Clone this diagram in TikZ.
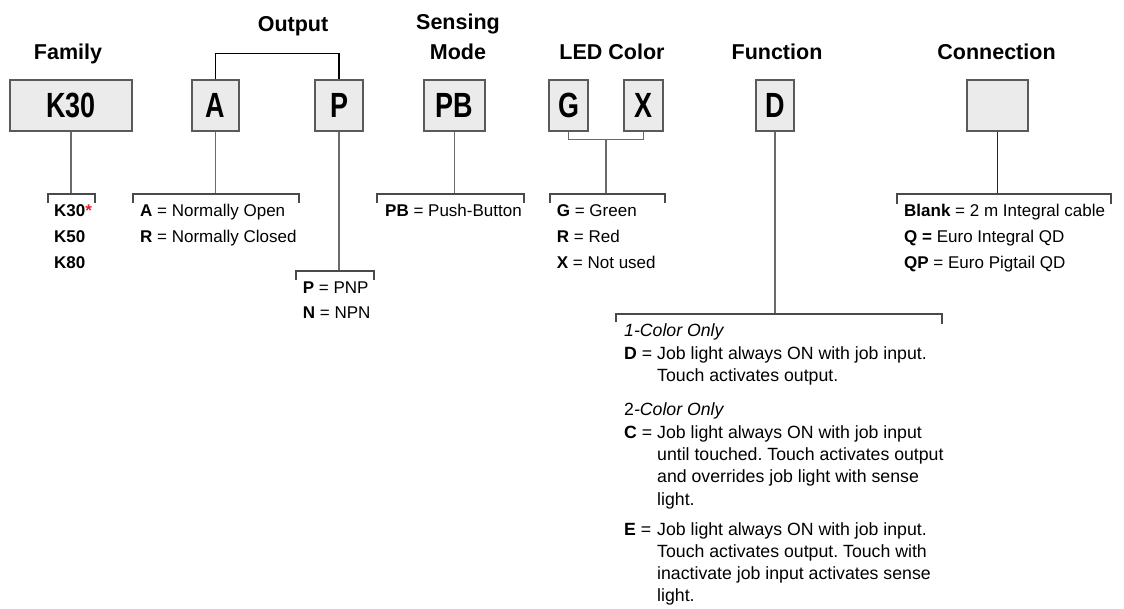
\documentclass[tikz,border=0pt]{standalone}
\usepackage{fontspec}
\setmainfont{Liberation Sans}
\usepackage{graphicx}
\usetikzlibrary{calc}
\frenchspacing
\definecolor{boxfill}{HTML}{EBEBEC}
\definecolor{boxline}{HTML}{5A5A5A}
\definecolor{stemgray}{HTML}{6A6A6A}
\definecolor{brkgray}{HTML}{4A4A4A}
\definecolor{starred}{HTML}{E02030}
\begin{document}
\begin{tikzpicture}[x=1pt,y=-1pt,
  lbox/.style={draw=boxline, fill=boxfill, line width=1.3pt, inner sep=0pt, minimum height=51pt, font=\fontsize{35}{35}\selectfont\bfseries},
  title/.style={anchor=base, font=\fontsize{21.5}{30}\selectfont\bfseries, align=center, inner sep=0pt},
  opt/.style={anchor=base west, font=\fontsize{17}{26}\selectfont, align=left, inner sep=0pt},
  fopt/.style={anchor=base west, font=\fontsize{17.7}{22.3}\selectfont\frenchspacing, align=left, inner sep=0pt},
  stem/.style={draw=stemgray, line width=1.2pt},
  brk/.style={draw=brkgray, line width=1.2pt},
]
\useasboundingbox (0,0) rectangle (1124,609);

% titles (anchor base = baseline of the last line)
\node[title] (tfam) at (68,60) {Family};
\node[title] (tout) at (293,31.7) {Output};
\node[title] (tsen) at (458,60) {Sensing\\Mode};
\node[title] (tled) at (612,60) {LED Color};
\node[title] (tfun) at (777,60) {Function};
\node[title] (tcon) at (996.5,60) {Connection};

% boxes
\node[lbox, minimum width=122pt] (k30) at (71,105.5) {\scalebox{0.77}[1]{K30}};
\node[lbox, minimum width=47pt] (a) at (215.5,105.5) {\scalebox{0.77}[1]{A}};
\node[lbox, minimum width=48pt] (p) at (339,105.5) {\scalebox{0.77}[1]{P}};
\node[lbox, minimum width=61pt] (pb) at (454.5,105.5) {\scalebox{0.77}[1]{PB}};
\node[lbox, minimum width=39pt] (g) at (568.5,105.5) {\scalebox{0.77}[1]{G}};
\node[lbox, minimum width=39pt] (x) at (643.5,105.5) {\scalebox{0.77}[1]{X}};
\node[lbox, minimum width=38pt] (d) at (775,105.5) {\scalebox{0.77}[1]{D}};
\node[lbox, minimum width=61pt] (conn) at (997.5,105.5) {};

% bracket junction points
\coordinate (famb) at (71,194);
\coordinate (outb) at (215.5,194);
\coordinate (pnpb) at (339,271);
\coordinate (pbb) at (454.5,194);
\coordinate (gx) at ($(g.south)!0.5!(x.south)+(0,8)$);
\coordinate (ledb) at (gx |- 0,194);
\coordinate (funb) at (775,314);
\coordinate (conb) at (997.5,194);

% connectors
\draw[line width=1.2pt] (a.north) -- ++(0,-26) -| (p.north);
\draw[stem] (k30.south) -- (famb);
\draw[stem] (a.south) -- (outb);
\draw[stem] (p.south) -- (pnpb);
\draw[stem] (pb.south) -- (pbb);
\draw[stem] (g.south) -- ++(0,8) -| (x.south);
\draw[stem] (gx) -- (ledb);
\draw[stem] (d.south) -- (funb);
\draw[line width=1.2pt, draw=black!85] (conn.south) -- (conb);

% brackets
\draw[brk] (48,203) -- (48,194) -- (95,194) -- (95,203);
\draw[brk] (133,203) -- (133,194) -- (299,194) -- (299,203);
\draw[brk] (296,280) -- (296,271) -- (374,271) -- (374,280);
\draw[brk] (377,203) -- (377,194) -- (524,194) -- (524,203);
\draw[brk] (550,203) -- (550,194) -- (665,194) -- (665,203);
\draw[brk] (616,322) -- (616,314) -- (942,314) -- (942,324);
\draw[brk] (897,204) -- (897,194) -- (1111,194) -- (1111,204);

% option texts (anchor base = last line)
\node[opt] (famtxt) at (54,268.7) {\textbf{K30}\textcolor{starred}{\textbf{*}}\\\textbf{K50}\\\textbf{K80}};
\node[opt] (outtxt) at (140,242.7) {\textbf{A} = Normally Open\\\textbf{R} = Normally Closed};
\node[opt, font=\fontsize{17}{25}\selectfont] (ptxt) at (302.7,318.3) {\textbf{P} = PNP\\\textbf{N} = NPN};
\node[opt] (pbtxt) at (385,216.7) {\textbf{PB} = Push-Button};
\node[opt] (ledtxt) at (556.7,268.7) {\textbf{G} = Green\\\textbf{R} = Red\\\textbf{X} = Not used};
\node[opt] (contxt) at (904,268.7) {\textbf{Blank} = 2 m Integral cable\\\textbf{Q =} Euro Integral QD\\\textbf{QP} = Euro Pigtail QD};

% function texts
\node[fopt] (c1) at (624,337) {\textit{1-Color Only}};
\node[fopt] (dl) at (624,359.5) {\textbf{D} =};
\node[fopt] (dt) at (657,381.8) {Job light always ON with job input.\\Touch activates output.};
\node[fopt] (c2) at (624,415) {2\textit{-Color Only}};
\node[fopt] (cl) at (624,438.3) {\textbf{C} =};
\node[fopt] (ct) at (657,505.2) {Job light always ON with job input\\until touched. Touch activates output\\and overrides job light with sense\\light.};
\node[fopt] (el) at (624,535) {\textbf{E} =};
\node[fopt] (et) at (657,601.9) {Job light always ON with job input.\\Touch activates output. Touch with\\inactivate job input activates sense\\light.};
\end{tikzpicture}
\end{document}
